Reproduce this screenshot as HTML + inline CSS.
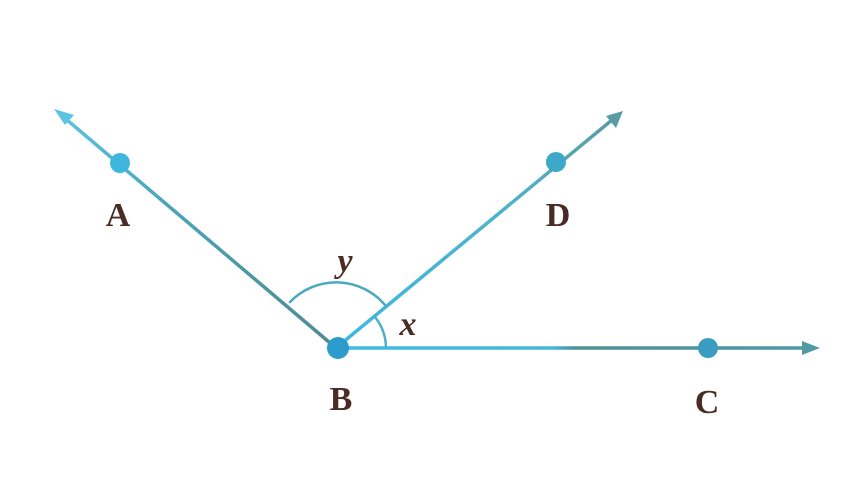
<!DOCTYPE html>
<html><head><meta charset="utf-8"><style>
html,body{margin:0;padding:0;background:#fff;width:853px;height:480px;overflow:hidden}
text{font-family:"Liberation Serif",serif;font-weight:bold;fill:#4a2c24}
</style></head><body>
<svg width="853" height="480" viewBox="0 0 853 480" xmlns="http://www.w3.org/2000/svg">
<defs>
<linearGradient id="ga" x1="55" y1="110" x2="336" y2="348" gradientUnits="userSpaceOnUse">
<stop offset="0" stop-color="#5cc4e0"/><stop offset="0.4" stop-color="#4aa5b8"/><stop offset="1" stop-color="#4f8a90"/></linearGradient>
<linearGradient id="gd" x1="336" y1="348" x2="622" y2="112" gradientUnits="userSpaceOnUse">
<stop offset="0" stop-color="#3db8e0"/><stop offset="0.6" stop-color="#4fb2cc"/><stop offset="1" stop-color="#5a9aa0"/></linearGradient>
<linearGradient id="gc" x1="336" y1="348" x2="818" y2="348" gradientUnits="userSpaceOnUse">
<stop offset="0" stop-color="#3cbce6"/><stop offset="0.45" stop-color="#45b5d8"/><stop offset="0.5" stop-color="#4d8e96"/><stop offset="1" stop-color="#4f9aa4"/></linearGradient>
</defs>
<g stroke-width="3.5" fill="none" stroke-linecap="round">
<line x1="60" y1="114" x2="336" y2="348" stroke="url(#ga)"/>
<line x1="336" y1="348" x2="618" y2="115" stroke="url(#gd)"/>
<line x1="336" y1="348" x2="812" y2="348" stroke="url(#gc)"/>
<path d="M290,302 A64,64 0 0 1 385,305" stroke="#4aa8c0" stroke-width="2.5"/>
<path d="M375,317 A50,50 0 0 1 386,348" stroke="#4ab0cc" stroke-width="2.5"/>
</g>
<polygon points="54,109 74,115 65,125" fill="#5cc4e0"/>
<polygon points="623,111 606,116 616,128" fill="#5a9ca4"/>
<polygon points="820,348 802,341 802,355" fill="#4f9aa4"/>
<circle cx="120" cy="163" r="10" fill="#3fb6de"/>
<circle cx="556" cy="162" r="10" fill="#3ea8c8"/>
<circle cx="708" cy="348" r="10" fill="#3a9cc0"/>
<circle cx="338" cy="348" r="11" fill="#2c9ccc"/>
<text x="118" y="226" font-size="34" text-anchor="middle">A</text>
<text x="558" y="226" font-size="34" text-anchor="middle">D</text>
<text x="341" y="410" font-size="34" text-anchor="middle">B</text>
<text x="707" y="413" font-size="34" text-anchor="middle">C</text>
<text x="345" y="272" font-size="34" font-style="italic" text-anchor="middle">y</text>
<text x="408" y="335" font-size="34" font-style="italic" text-anchor="middle">x</text>
</svg>
</body></html>
